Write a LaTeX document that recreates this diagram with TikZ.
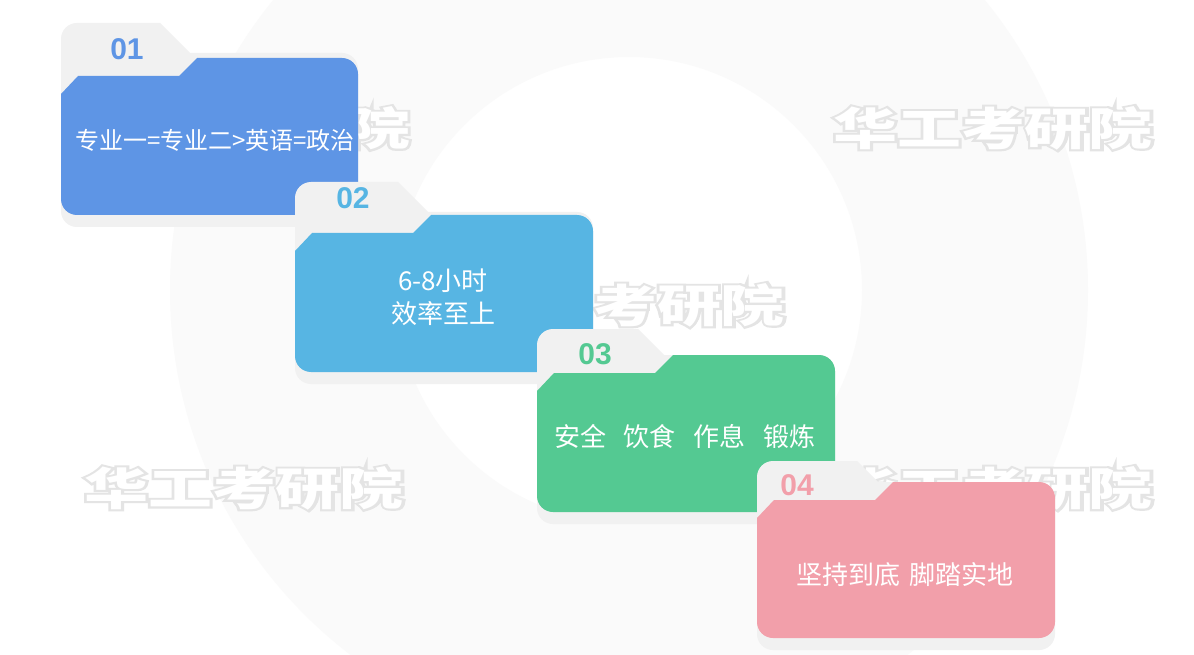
\documentclass[tikz,border=0pt]{standalone}
\usepackage{fontspec}
\setmainfont{Liberation Sans}
\newfontfamily\cjk{Noto Sans CJK SC}
\newfontfamily\cjkfat{Noto Sans CJK SC}[FakeBold=9]
\newfontfamily\numfont{Liberation Sans}
\definecolor{cA}{HTML}{5E95E5}
\definecolor{cB}{HTML}{57B5E3}
\definecolor{cC}{HTML}{54C992}
\definecolor{cD}{HTML}{F29FAA}
\definecolor{backgray}{HTML}{F1F1F1}
\definecolor{ringgray}{HTML}{FAFAFA}
\definecolor{wmgray}{HTML}{E4E4E4}
% L, T(tab top), F(front top), R, B, xt(tab end), yb(back top), colour
\newcommand\cardshape[8]{%
  \fill[backgray] (#1,{#5+12-16}) -- (#1,{#2+16})
    arc[start angle=180,end angle=270,radius=16] -- (#6,#2)
    -- ({#6+#7-#2},#7) -- ({#4-16},#7)
    arc[start angle=270,end angle=360,radius=16] -- (#4,{#5+12-16})
    arc[start angle=0,end angle=90,radius=16] -- ({#1+16},{#5+12})
    arc[start angle=90,end angle=180,radius=16] -- cycle;
  \fill[#8] ({#1+136},#3) -- ({#4-16},#3)
    arc[start angle=270,end angle=360,radius=16] -- (#4,{#5-16})
    arc[start angle=0,end angle=90,radius=16] -- ({#1+16},#5)
    arc[start angle=90,end angle=180,radius=16] -- (#1,{#3+36})
    -- ({#1+17},{#3+18}) -- ({#1+118},{#3+18}) -- cycle;
}
% name, x, y, text
\newcommand\wmark[4]{%
  \node[wmback] (#1b) at (#2,#3) {\scalebox{1.42}[1]{#4}};
  \node[wmfront] (#1) at (#2,#3) {\scalebox{1.42}[1]{#4}};
}
\tikzset{
  num/.style={font=\numfont\bfseries\fontsize{30}{30}\selectfont, inner sep=0pt},
  cardtxt/.style={text=white, font=\cjk\fontsize{26}{33}\selectfont, align=center, inner sep=0pt},
  wmback/.style={text=wmgray, font=\cjkfat\bfseries\fontsize{45}{45}\selectfont, inner sep=0pt},
  wmfront/.style={text=white, font=\cjk\bfseries\fontsize{45}{45}\selectfont, inner sep=0pt}
}
\begin{document}
\begin{tikzpicture}[x=1pt,y=-1pt]
\useasboundingbox (0,0) rectangle (1194,655);
\fill[white] (0,0) rectangle (1194,655);
% background ring
\fill[ringgray, even odd rule] (629,290) circle[radius=459] (629,290) circle[radius=233];
% watermarks (only their visible parts)
\wmark{w1}{378}{128}{院}
\wmark{w2}{993}{128}{华工考研院}
\wmark{w3}{689}{305}{考研院}
\wmark{w4}{244}{488}{华工考研院}
\wmark{w5}{993}{488}{华工考研院}
% cards
\cardshape{61}{23}{58}{358}{215}{160}{53}{cA}
\node[num, text=cA] (n1) at (127,49) {01};
\node[cardtxt, font=\cjk\fontsize{24}{30}\selectfont] (t1) at (215,140) {专业一=专业二>英语=政治};
\cardshape{295}{182}{215}{593}{372}{398}{212}{cB}
\node[num, text=cB] (n2) at (353,198) {02};
\node[cardtxt] (t2) at (443,297) {6-8小时\\效率至上};
\cardshape{537}{329}{355}{835}{512}{638}{355}{cC}
\node[num, text=cC] (n3) at (595,354) {03};
\node[cardtxt] (t3) at (685,437) {安全\hspace{18pt}饮食\hspace{18pt}作息\hspace{18pt}锻炼};
\cardshape{757}{461}{482}{1055}{638}{857}{482}{cD}
\node[num, text=cD] (n4) at (797,485) {04};
\node[cardtxt] (t4) at (905,575) {坚持到底\hspace{9pt}脚踏实地};
\end{tikzpicture}
\end{document}
